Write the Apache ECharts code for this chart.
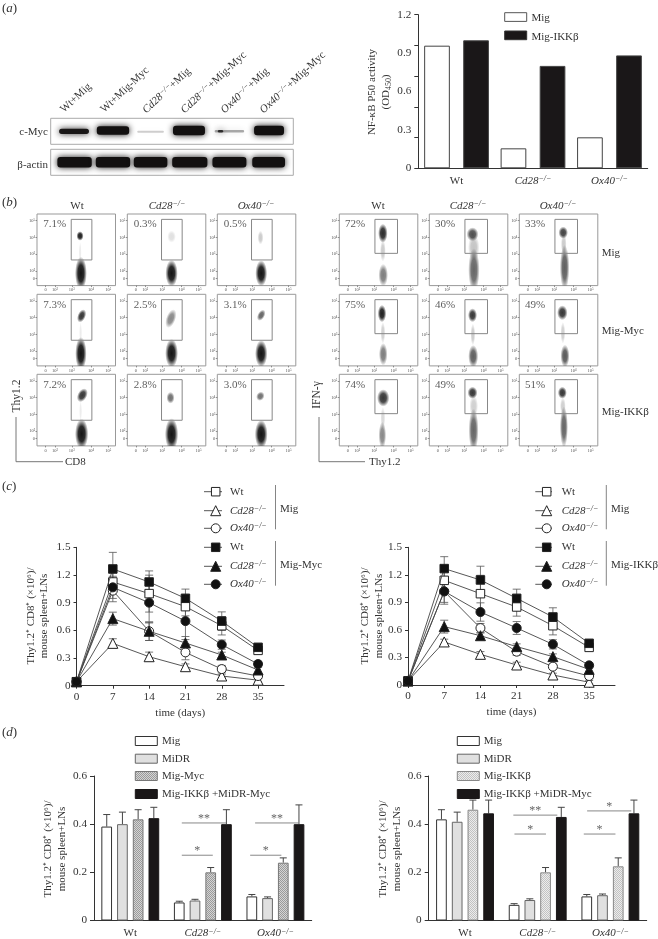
<!DOCTYPE html>
<html><head><meta charset="utf-8">
<style>html,body{margin:0;padding:0;background:#fff}#c{width:658px;height:939px}</style>
<script src="https://cdn.jsdelivr.net/npm/echarts@6/dist/echarts.min.js"></script>
</head><body><div id="c"></div>
<script>
// ---------- panel (a) data
const laneLabels = ['Wt+Mig','Wt+Mig-Myc','Cd28−/−+Mig','Cd28−/−+Mig-Myc','Ox40−/−+Mig','Ox40−/−+Mig-Myc'];
// [lane centre, width, vertical centre (0-1), height (0-1), darkness]
const mycBands = [[.577,.74,.5,.2,.95],[1.54,.80,.53,.32,1],[2.47,.66,.48,.08,.2],[3.42,.79,.53,.36,1],[4.42,.73,.5,.1,.35],[4.2,.13,.5,.1,.8],[5.40,.74,.53,.36,1]];
const actinBands = [[.59,.85,.5,.40,1],[1.54,.85,.5,.40,1],[2.47,.83,.5,.40,1],[3.44,.87,.5,.40,1],[4.42,.84,.5,.40,1],[5.39,.81,.5,.40,1]];
const genotypes = ['Wt','Cd28−/−','Ox40−/−'];
const nfkbMig = [0.958,0.156,0.242];
const nfkbIkk = [1.0,0.80,0.882];
// ---------- panel (b) data: populations [x, y, rx, ry, density, tilt]
const leftPct = ['7.1%','0.3%','0.5%','7.3%','2.5%','3.1%','7.2%','2.8%','3.0%'];
const rightPct = ['72%','30%','33%','75%','46%','49%','74%','49%','51%'];
const leftPops = [
 [[3.47,1.86,.25,.76,1,0],[3.42,4.09,.15,.22,.95,0],[3.43,3.1,.06,.5,.08,0]],
 [[3.49,1.86,.26,.62,1,0],[3.49,4.05,.18,.28,.13,0]],
 [[3.47,1.86,.25,.60,1,0],[3.43,3.99,.12,.32,.22,0]],
 [[3.47,1.86,.24,.76,1,0],[3.51,4.11,.17,.32,.85,-.4],[3.45,3.1,.06,.5,.08,0]],
 [[3.49,1.88,.27,.66,1,0],[3.45,3.95,.2,.45,.5,-.35]],
 [[3.47,1.86,.26,.62,1,0],[3.47,4.15,.15,.28,.65,-.5]],
 [[3.51,1.84,.28,.70,1,0],[3.55,4.15,.2,.34,.85,-.5],[3.45,3.2,.06,.5,.08,0]],
 [[3.49,1.82,.28,.74,1,0],[3.43,4.0,.17,.27,.6,0]],
 [[3.47,1.82,.27,.66,1,0],[3.42,4.09,.17,.22,.6,-.5]]
];
const rightPops = [
 [[3.45,4.25,.2,.44,.9,0],[3.45,3.2,.12,.5,.22,0],[3.47,1.75,.2,.52,.55,0]],
 [[3.43,4.19,.25,.32,.75,0],[3.5,3.4,.24,.6,.25,0],[3.51,2.06,.24,1.0,.65,0]],
 [[3.47,4.29,.2,.28,.8,0],[3.5,3.6,.12,.5,.22,0],[3.55,2.2,.2,1.05,.68,0]],
 [[3.4,4.25,.18,.4,.95,0],[3.45,3.1,.1,.5,.2,0],[3.47,1.82,.18,.52,.55,0]],
 [[3.43,4.15,.19,.32,.85,0],[3.45,3.0,.1,.5,.22,0],[3.47,1.7,.21,.52,.68,0]],
 [[3.42,4.3,.22,.34,.85,0],[3.45,3.1,.1,.5,.2,0],[3.57,1.72,.19,.52,.7,0]],
 [[3.47,3.99,.26,.4,.85,0],[3.45,2.8,.1,.5,.16,0],[3.42,1.76,.16,.62,.5,0]],
 [[3.43,4.3,.21,.28,.85,0],[3.5,3.5,.18,.5,.2,0],[3.49,2.06,.21,1.0,.65,0]],
 [[3.42,4.3,.19,.28,.85,0],[3.45,3.5,.12,.4,.2,0],[3.51,2.25,.17,.95,.65,0]]
];
const leftGate = [2.92,4.09,2.656,5.08];
const rightGate = [3.0,4.28,3.05,5.08];
const flowTickX = [1.47,2,2.95,4.05,5.02];
const flowTickY = [1.56,2,3,4,5];
const flowTickText = ['0','10²','10³','10⁴','10⁵'];
// ---------- panel (c) data
const days = [0,7,14,21,28,35];
const cLeftOpenSquare   = [0.043,1.124,0.998,0.857,0.65,0.383];
const cLeftOpenTriangle = [0.043,0.459,0.314,0.206,0.105,0.06];
const cLeftOpenCircle   = [0.043,1.03,0.59,0.361,0.18,0.105];
const cLeftFillSquare   = [0.043,1.265,1.124,0.947,0.70,0.416];
const cLeftFillTriangle = [0.043,0.727,0.59,0.463,0.333,0.17];
const cLeftFillCircle   = [0.043,1.066,0.90,0.70,0.445,0.235];
const cLeftErrors = [[0,.1,.2,.1,.1,.03],[0,.05,.05,.03,.02,.02],[0,.12,.1,.08,.04,.03],[0,.18,.12,.1,.1,.03],[0,.07,.1,.07,.03,.03],[0,.12,.22,.2,.05,.03]];
const cRightOpenSquare   = [0.044,1.14,0.995,0.85,0.646,0.41];
const cRightOpenTriangle = [0.044,0.469,0.334,0.218,0.109,0.03];
const cRightOpenCircle   = [0.044,1.02,0.62,0.363,0.20,0.098];
const cRightFillSquare   = [0.044,1.268,1.144,0.944,0.741,0.454];
const cRightFillTriangle = [0.044,0.636,0.537,0.418,0.309,0.17];
const cRightFillCircle   = [0.044,1.02,0.795,0.621,0.443,0.214];
const cRightErrors = [[0,.1,.2,.1,.1,.03],[0,.03,.03,.03,.02,.02],[0,.12,.05,.04,.03,.03],[0,.13,.15,.1,.1,.03],[0,.07,.03,.03,.03,.03],[0,.14,.1,.07,.05,.03]];
// ---------- panel (d) data
const dLeftMig  = [0.39,0.075,0.10];
const dLeftMidr = [0.40,0.083,0.093];
const dLeftMyc  = [0.42,0.20,0.24];
const dLeftBoth = [0.425,0.40,0.40];
const dLeftTops = [[.44,.08,.108],[.45,.088,.098],[.46,.22,.26],[.47,.46,.48]];
const dRightMig  = [0.42,0.065,0.10];
const dRightMidr = [0.41,0.085,0.105];
const dRightIkk  = [0.46,0.20,0.225];
const dRightBoth = [0.445,0.43,0.445];
const dRightTops = [[.46,.07,.108],[.45,.09,.11],[.50,.22,.26],[.50,.47,.50]];
// significance [genotype, from, to, height, stars]
const dLeftSig  = [[1,-.29,.32,.405,'**'],[1,-.29,.137,.271,'*'],[2,-.28,.325,.405,'**'],[2,-.348,.082,.271,'*']];
const dRightSig = [[1,-.335,.27,.4376,'**'],[1,-.32,.114,.359,'*'],[2,-.32,.288,.455,'*'],[2,-.366,.07,.359,'*']];

// ---------- helpers
const SERIF = '"Liberation Serif","Times New Roman",serif';
const INK = '#333';
const noFx = {animation:false, silent:true};
const richBase = s => ({
  r:{fontFamily:SERIF,fontSize:s,fill:INK,color:INK},
  i:{fontFamily:SERIF,fontSize:s,fontStyle:'italic',fill:INK,color:INK},
  s:{fontFamily:SERIF,fontSize:s*0.72,fontStyle:'italic',fill:INK,color:INK,verticalAlign:'top',lineHeight:s+1},
  d:{fontFamily:SERIF,fontSize:s*0.72,fill:INK,color:INK,verticalAlign:'bottom',lineHeight:s+1}
});
const markup = t => {
  const m = t.match(/^(Cd28|Ox40)−\/−(.*)$/);
  if (m) return `{i|${m[1]}}{s|−/−}` + (m[2] ? `{r|${m[2]}}` : '');
  return `{r|${t}}`;
};
const graphics = [];
function T(x,y,text,o={}){
  const size=o.size||11;
  graphics.push({type:'text',x,y,rotation:o.rot||0,silent:true,style:{
    text,rich:richBase(size),fontFamily:SERIF,fontSize:size,fill:o.fill||INK,
    align:o.align||'left',verticalAlign:'middle'}});
}
function L(x1,y1,x2,y2,color='#777',w=1){
  graphics.push({type:'line',silent:true,shape:{x1,y1,x2,y2},style:{stroke:color,lineWidth:w}});
}
function pattern(a,b){
  const c=document.createElement('canvas');c.width=c.height=2;
  const g=c.getContext('2d');g.fillStyle=b;g.fillRect(0,0,2,2);g.fillStyle=a;g.fillRect(0,0,1,1);g.fillRect(1,1,1,1);
  return {image:c,repeat:'repeat'};
}
const grid=[],xAxis=[],yAxis=[],series=[];
const addGrid=(g)=>{grid.push({containLabel:false,...g});return grid.length-1;};
const axisFont={fontFamily:SERIF,fontSize:11.2,color:INK};
const axisLine={show:true,lineStyle:{color:'#333',width:1}};

// ---------- panel (a) blot
function blot(top,bands){
  const g=addGrid({left:50.7,top,width:242.6,height:26,show:true,borderColor:'#aaa',borderWidth:1,backgroundColor:'#fff'});
  xAxis.push({gridIndex:g,type:'value',min:0,max:6,show:false});
  yAxis.push({gridIndex:g,type:'value',min:0,max:1,show:false});
  series.push({...noFx,type:'custom',xAxisIndex:xAxis.length-1,yAxisIndex:yAxis.length-1,
    data:bands,dimensions:['x','w','y','h','a'],encode:{x:0,y:2},
    renderItem(p,api){
      const c=api.coord([api.value(0),api.value(2)]),s=api.size([api.value(1),api.value(3)]);
      const a=api.value(4);
      return {type:'rect',shape:{x:c[0]-s[0]/2,y:c[1]-s[1]/2,width:s[0],height:s[1],r:Math.min(s[1]/2,3)},
        style:{fill:`rgba(18,16,16,${a})`,shadowBlur:6,shadowColor:`rgba(18,16,16,${a})`}};
    }});
}
blot(118.3,mycBands);
blot(149.3,actinBands);
const laneAnchors=[[65.7,115],[106,115],[148.3,116],[186.7,116],[226.7,116],[265.7,116]];
laneLabels.forEach((t,i)=>{
  graphics.push({type:'text',x:laneAnchors[i][0],y:laneAnchors[i][1],rotation:43*Math.PI/180,silent:true,
    style:{text:markup(t),rich:richBase(11),fontFamily:SERIF,fontSize:11,fill:INK,align:'left',verticalAlign:'bottom'}});
});
T(48,132,'c-Myc',{align:'right'});
T(48,164.7,'β-actin',{align:'right'});

// ---------- panel (a) bar
{
  const g=addGrid({left:418.3,top:14.7,width:229.4,height:153.6});
  xAxis.push({gridIndex:g,type:'category',data:genotypes,axisTick:{show:false},axisLine,
    axisLabel:{...axisFont,interval:0,margin:7,rich:richBase(11),formatter:markup}});
  yAxis.push({gridIndex:g,type:'value',min:0,max:1.2,interval:0.24,splitLine:{show:false},axisLine,
    axisTick:{show:true,length:4,lineStyle:{color:'#333'}},axisLabel:{show:false}});
  yAxis.push({gridIndex:g,type:'value',min:0,max:1.2,interval:0.3,position:'left',splitLine:{show:false},
    axisLine:{show:false},axisTick:{show:false},
    axisLabel:{...axisFont,margin:7,formatter:v=>v===0?'0':v.toFixed(1)}});
  const xi=xAxis.length-1, yi=yAxis.length-2;
  series.push({...noFx,type:'bar',name:'Mig',xAxisIndex:xi,yAxisIndex:yi,data:nfkbMig,barWidth:25.7,barGap:'52%',
    itemStyle:{color:'#fff',borderColor:'#444',borderWidth:1}});
  series.push({...noFx,type:'bar',name:'Mig-IKKβ',xAxisIndex:xi,yAxisIndex:yi,data:nfkbIkk,barWidth:25.7,barGap:'52%',
    itemStyle:{color:'#1a1718',borderColor:'#444',borderWidth:1}});
}
T(372.5,92,'NF-κB P50 activity',{rot:Math.PI/2,align:'center'});
T(386.5,92,'{r|(OD}{d|450}{r|)}',{rot:Math.PI/2,align:'center'});
graphics.push({type:'rect',silent:true,shape:{x:504.7,y:12.7,width:22,height:8.7},style:{fill:'#fff',stroke:'#555',lineWidth:1}});
graphics.push({type:'rect',silent:true,shape:{x:504.7,y:31,width:22,height:8.7},style:{fill:'#1a1718',stroke:'#333',lineWidth:1}});
T(531.5,18,'Mig');
T(531.5,37,'Mig-IKKβ');

// ---------- panel (b) flow plots
function flowPanel(px,py,pops,gate,pct,pctX){
  const g=addGrid({left:px,top:py,width:78.5,height:71.6,show:true,borderColor:'#999',borderWidth:1,backgroundColor:'#fff'});
  const lab={fontFamily:SERIF,fontSize:4.5,color:'#555',margin:2};
  const txtX=v=>flowTickText[flowTickX.indexOf(v)];
  const txtY=v=>flowTickText[flowTickY.indexOf(v)];
  xAxis.push({gridIndex:g,type:'value',min:0.98,max:5.43,splitLine:{show:false},axisLine:{show:false},
    axisTick:{show:true,length:1.5,customValues:flowTickX,lineStyle:{color:'#666',width:.7}},
    axisLabel:{...lab,customValues:flowTickX,formatter:txtX,hideOverlap:false}});
  yAxis.push({gridIndex:g,type:'value',min:1.125,max:5.4,splitLine:{show:false},axisLine:{show:false},
    axisTick:{show:true,length:1.5,customValues:flowTickY,lineStyle:{color:'#666',width:.7}},
    axisLabel:{...lab,customValues:flowTickY,formatter:txtY,hideOverlap:false}});
  const xi=xAxis.length-1, yi=yAxis.length-1;
  series.push({...noFx,type:'custom',xAxisIndex:xi,yAxisIndex:yi,clip:true,data:pops,
    encode:{x:0,y:1},
    renderItem(p,api){
      const c=api.coord([api.value(0),api.value(1)]),s=api.size([api.value(2),api.value(3)]),a=api.value(4);
      const col=k=>`rgba(20,20,20,${a*k})`;
      return {type:'circle',x:c[0],y:c[1],scaleX:s[0]*1.35,scaleY:s[1]*1.3,rotation:api.value(5),
        shape:{cx:0,cy:0,r:1},
        style:{fill:{type:'radial',x:.5,y:.5,r:.5,colorStops:[{offset:0,color:col(1)},{offset:.5,color:col(.9)},{offset:.75,color:col(.45)},{offset:1,color:col(0)}]}}};
    }});
  series.push({...noFx,type:'custom',xAxisIndex:xi,yAxisIndex:yi,clip:false,data:[gate],z:5,
    encode:{x:[0,1],y:[2,3]},
    renderItem(p,api){
      const a=api.coord([api.value(0),api.value(3)]),b=api.coord([api.value(1),api.value(2)]);
      return {type:'rect',shape:{x:a[0],y:a[1],width:b[0]-a[0],height:b[1]-a[1]},style:{fill:'none',stroke:'#888',lineWidth:1}};
    }});
  series.push({...noFx,type:'scatter',xAxisIndex:xi,yAxisIndex:yi,data:[[pctX,4.78]],symbolSize:0,z:6,
    label:{show:true,position:'right',distance:0,formatter:pct,fontFamily:SERIF,fontSize:11,color:'#333'}});
}
const leftCols=[37,127.3,217.3], rightCols=[339.3,429.3,519.3], flowRows=[214,294.3,374.3];
flowRows.forEach((py,r)=>[0,1,2].forEach(c=>{
  flowPanel(leftCols[c],py,leftPops[r*3+c],leftGate,leftPct[r*3+c],1.34);
  flowPanel(rightCols[c],py,rightPops[r*3+c],rightGate,rightPct[r*3+c],1.3);
}));
[[77,167,256],[378,468,558]].forEach(a=>a.forEach((x,i)=>T(x,206,markup(genotypes[i]),{align:'center'})));
T(601.7,253,'Mig'); T(601.7,330.7,'Mig-Myc'); T(601.7,411.7,'Mig-IKKβ');
T(17,396,'Thy1.2',{rot:Math.PI/2,align:'center',size:11.5});
L(16,417,16,461.7); L(16,461.7,63,461.7); T(65,462,'CD8');
T(317,395,'IFN-γ',{rot:Math.PI/2,align:'center',size:11.5});
L(319,417,319,461.7); L(319,461.7,365,461.7); T(369,462,'Thy1.2');

// ---------- panel (c) time courses
const lineStyles=[
 ['rect',8.5,'#fff'],['triangle',10,'#fff'],['circle',9,'#fff'],
 ['rect',8.5,'#111'],['triangle',10,'#111'],['circle',9,'#111']];
function timeCourse(left,width,height,arrs,errs){
  const g=addGrid({left,top:547.3,width,height});
  xAxis.push({gridIndex:g,type:'value',min:0,max:40,splitLine:{show:false},axisLine,
    axisTick:{show:true,length:3,customValues:days,lineStyle:{color:'#333'}},
    axisLabel:{...axisFont,customValues:days,margin:6},
    name:'time (days)',nameLocation:'middle',nameGap:22,nameTextStyle:{...axisFont,fontSize:11}});
  yAxis.push({gridIndex:g,type:'value',min:0,max:1.5,interval:.3,splitLine:{show:false},axisLine,
    axisTick:{show:true,length:3,lineStyle:{color:'#333'}},
    axisLabel:{...axisFont,margin:6,formatter:v=>v===0?'0':v.toFixed(1)}});
  const xi=xAxis.length-1, yi=yAxis.length-1;
  arrs.forEach((a,k)=>{
    const rows=[];
    days.forEach((d,j)=>{ if(errs[k][j]>0) rows.push([d,a[j]-errs[k][j],a[j]+errs[k][j]]); });
    series.push({...noFx,type:'custom',xAxisIndex:xi,yAxisIndex:yi,data:rows,z:1,encode:{x:0,y:[1,2]},
      renderItem(p,api){
        const x=api.value(0),lo=api.coord([x,api.value(1)]),hi=api.coord([x,api.value(2)]);
        const st={stroke:'#555',lineWidth:.8};
        return {type:'group',children:[
          {type:'line',shape:{x1:lo[0],y1:lo[1],x2:hi[0],y2:hi[1]},style:st},
          {type:'line',shape:{x1:lo[0]-4,y1:lo[1],x2:lo[0]+4,y2:lo[1]},style:st},
          {type:'line',shape:{x1:hi[0]-4,y1:hi[1],x2:hi[0]+4,y2:hi[1]},style:st}]};
      }});
  });
  arrs.forEach((a,k)=>{
    series.push({...noFx,type:'line',xAxisIndex:xi,yAxisIndex:yi,data:days.map((d,j)=>[d,a[j]]),
      z:2+k,symbol:lineStyles[k][0],symbolSize:lineStyles[k][1],showSymbol:true,showAllSymbol:true,
      lineStyle:{color:'#444',width:.9},itemStyle:{color:lineStyles[k][2],borderColor:'#222',borderWidth:1,opacity:1}});
  });
}
timeCourse(76.5,207.5,138.4,[cLeftOpenSquare,cLeftOpenTriangle,cLeftOpenCircle,cLeftFillSquare,cLeftFillTriangle,cLeftFillCircle],cLeftErrors);
timeCourse(408,207,137.7,[cRightOpenSquare,cRightOpenTriangle,cRightOpenCircle,cRightFillSquare,cRightFillTriangle,cRightFillCircle],cRightErrors);
const cLegendY=[491.7,510.7,528.3,547.3,566.3,584.3];
const cLegendText=['Wt','Cd28−/−','Ox40−/−','Wt','Cd28−/−','Ox40−/−'];
function cLegend(x1,x2,sx,tx,barX,labX,label2){
  cLegendY.forEach((y,i)=>{
    L(x1,y,x2,y,'#444',.9);
    const [sym,size,fill]=lineStyles[i];
    const st={fill,stroke:'#222',lineWidth:1};
    if(sym==='rect') graphics.push({type:'rect',silent:true,shape:{x:sx-size/2,y:y-size/2,width:size,height:size},style:st});
    else if(sym==='circle') graphics.push({type:'circle',silent:true,shape:{cx:sx,cy:y,r:size/2},style:st});
    else graphics.push({type:'polygon',silent:true,shape:{points:[[sx,y-size/2],[sx+size/2,y+size/2],[sx-size/2,y+size/2]]},style:st});
    T(tx,y,markup(cLegendText[i]));
  });
  L(barX,485,barX,529.3,'#666',.8); L(barX,541,barX,585.7,'#666',.8);
  T(labX,509,'Mig'); T(labX,565,label2);
}
cLegend(204,222,215.7,230,275.5,280,'Mig-Myc');
cLegend(535.3,552,546.7,561.7,606.3,611,'Mig-IKKβ');
const cAxisName='Thy1.2⁺ CD8⁺ (×10⁶)/', cAxisName2='mouse spleen+LNs';
T(30.7,616,cAxisName,{rot:Math.PI/2,align:'center'});
T(44.3,616,cAxisName2,{rot:Math.PI/2,align:'center'});
T(365,616,cAxisName,{rot:Math.PI/2,align:'center'});
T(379,616,cAxisName2,{rot:Math.PI/2,align:'center'});

// ---------- panel (d) bars
const BARPITCH=.2163;
function barPanel(left,width,vals,tops,sig,fills){
  const g=addGrid({left,top:776,width,height:145.3});
  xAxis.push({gridIndex:g,type:'category',data:genotypes,axisTick:{show:false},axisLine,
    axisLabel:{...axisFont,interval:0,margin:7,rich:richBase(11),formatter:markup}});
  yAxis.push({gridIndex:g,type:'value',min:0,max:.6,interval:.2,splitLine:{show:false},axisLine,
    axisTick:{show:true,length:4,lineStyle:{color:'#333'}},
    axisLabel:{...axisFont,margin:7,formatter:v=>v===0?'0':v.toFixed(1)}});
  const xi=xAxis.length-1, yi=yAxis.length-1;
  vals.forEach((v,k)=>series.push({...noFx,type:'bar',xAxisIndex:xi,yAxisIndex:yi,data:v,barWidth:10.7,barGap:'47%',
    itemStyle:{color:fills[k][0],borderColor:fills[k][1],borderWidth:1}}));
  const rows=[];
  tops.forEach((t,k)=>t.forEach((top,c)=>rows.push([c,k,vals[k][c],top])));
  series.push({...noFx,type:'custom',xAxisIndex:xi,yAxisIndex:yi,data:rows,z:1,encode:{x:0,y:[2,3]},
    renderItem(p,api){
      const c=api.value(0),k=api.value(1),pitch=api.size([1,0])[0]*BARPITCH;
      const b=api.coord([c,api.value(2)]),t=api.coord([c,api.value(3)]),x=b[0]+(k-1.5)*pitch;
      const st={stroke:'#444',lineWidth:1};
      return {type:'group',children:[
        {type:'line',shape:{x1:x,y1:b[1],x2:x,y2:t[1]},style:st},
        {type:'line',shape:{x1:x-3.5,y1:t[1],x2:x+3.5,y2:t[1]},style:st}]};
    }});
  series.push({...noFx,type:'custom',xAxisIndex:xi,yAxisIndex:yi,data:sig.map(s=>s.slice(0,4)),z:4,encode:{x:0,y:3},
    renderItem(p,api){
      const c=api.value(0),w=api.size([1,0])[0],o=api.coord([c,api.value(3)]);
      const a=o[0]+api.value(1)*w,b=o[0]+api.value(2)*w;
      return {type:'group',children:[
        {type:'line',shape:{x1:a,y1:o[1],x2:b,y2:o[1]},style:{stroke:'#888',lineWidth:1}},
        {type:'text',x:(a+b)/2,y:o[1]-4,style:{text:sig[p.dataIndex][4],fontFamily:SERIF,fontSize:12,fill:'#666',align:'center',verticalAlign:'middle'}}]};
    }});
}
const F_W=['#fff','#333'],F_G=['#e0e0e0','#666'],F_K=['#1a1718','#1a1718'];
const F_M=[pattern('#9a9a9a','#d4d4d4'),'#777'],F_I=[pattern('#c2c2c2','#ececec'),'#888'];
barPanel(94,217.7,[dLeftMig,dLeftMidr,dLeftMyc,dLeftBoth],dLeftTops,dLeftSig,[F_W,F_G,F_M,F_K]);
barPanel(428.7,218,[dRightMig,dRightMidr,dRightIkk,dRightBoth],dRightTops,dRightSig,[F_W,F_G,F_I,F_K]);
function dLegend(sx,tx,names,fills){
  [741,758.7,776,794].forEach((y,i)=>{
    graphics.push({type:'rect',silent:true,shape:{x:sx,y:y-4.5,width:22,height:9},style:{fill:fills[i][0],stroke:fills[i][1],lineWidth:1}});
    T(tx,y,names[i]);
  });
}
dLegend(135.3,162,['Mig','MiDR','Mig-Myc','Mig-IKKβ +MiDR-Myc'],[F_W,F_G,F_M,F_K]);
dLegend(457.3,483.7,['Mig','MiDR','Mig-IKKβ','Mig-IKKβ +MiDR-Myc'],[F_W,F_G,F_I,F_K]);
T(48.3,849,cAxisName,{rot:Math.PI/2,align:'center'});
T(62.3,849,cAxisName2,{rot:Math.PI/2,align:'center'});
T(382.7,849,cAxisName,{rot:Math.PI/2,align:'center'});
T(396.7,849,cAxisName2,{rot:Math.PI/2,align:'center'});

// panel letters
[['a',9],['b',203],['c',487],['d',733]].forEach(([l,y])=>T(2,y,`{r|(}{i|${l}}{r|)}`,{size:13}));

const chart=echarts.init(document.getElementById('c'),null,{width:658,height:939,renderer:'canvas'});
chart.setOption({animation:false,backgroundColor:'#fff',textStyle:{fontFamily:SERIF},grid,xAxis,yAxis,series,graphic:{elements:graphics}});
</script></body></html>
